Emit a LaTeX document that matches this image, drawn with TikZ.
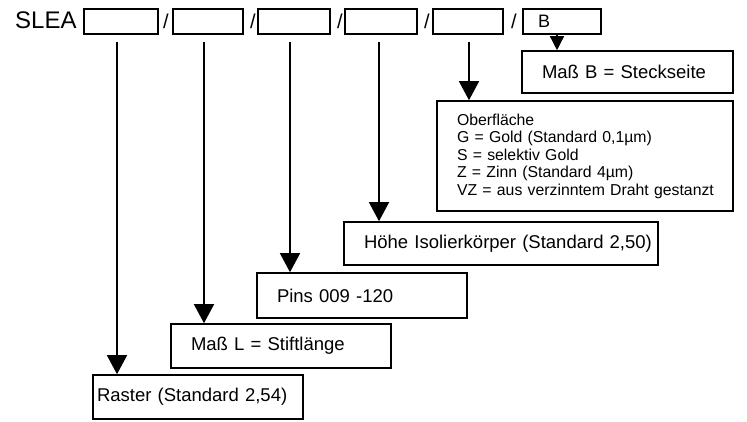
\documentclass[tikz,border=0pt]{standalone}
\usepackage{fontspec}
\setmainfont{Liberation Sans}
\usetikzlibrary{arrows.meta}

\tikzset{
    field/.style={draw, line width=1.6pt, minimum height=25pt, inner sep=0pt},
    label box/.style={draw, line width=1.6pt, align=left, inner xsep=20pt,
        font=\fontsize{18.5}{21}\selectfont},
    arr/.style={line width=1.5pt, -{Triangle[width=20pt,length=19pt]}},
}

\begin{document}
\begin{tikzpicture}[x=1pt,y=-1pt]
        \useasboundingbox (0,0) rectangle (747,421);
        %% Order code
        \node[anchor=base west, font=\fontsize{24}{24}\selectfont, inner sep=0pt] (slea) at (15,28) {SLEA};
        \node[field, minimum width=74pt] (f1) at (121,21.5) {};
        \node[field, minimum width=70pt] (f2) at (208,21.5) {};
        \node[field, minimum width=72pt] (f3) at (294,21.5) {};
        \node[field, minimum width=72pt] (f4) at (381,21.5) {};
        \node[field, minimum width=70pt] (f5) at (468,21.5) {};
        \node[field, minimum width=78pt, inner xsep=15pt, font=\fontsize{18}{18}\selectfont,
            text width=48pt, align=left] (f6) at (562,21.5) {B};
        \foreach \x/\n in {166/1,253/2,340/3,427/4,514/5}
            \node[anchor=base, font=\fontsize{20}{20}\selectfont, inner sep=0pt] (s\n) at (\x,28) {/};

        %% Explanations
        \node[label box, inner xsep=4pt, text width=202pt, minimum height=44pt] (raster) at (198,397) {\mbox{Raster (Standard 2,54)}};
        \node[label box, text width=180pt, minimum height=44pt] (massl) at (281,346) {\mbox{Maß L = Stiftlänge}};
        \node[label box, text width=170pt, minimum height=45pt] (pins) at (362,295.5) {\mbox{Pins 009 -120}};
        \node[label box, text width=274pt, minimum height=43pt] (hoehe) at (501,243.5) {\mbox{Höhe Isolierkörper (Standard 2,50)}};
        \node[label box, text width=256pt, minimum height=110pt, font=\fontsize{15.8}{17.5}\selectfont] (ober) at (585,156)
            {\mbox{Oberfläche}\\\mbox{G = Gold (Standard 0,1µm)}\\\mbox{S = selektiv Gold}\\\mbox{Z = Zinn (Standard 4µm)}\\\mbox{VZ = aus verzinntem Draht gestanzt}};
        \node[label box, text width=171pt, minimum height=42pt] (massb) at (627.5,72) {\mbox{Maß B = Steckseite}};

        %% Arrows
        \foreach \x/\n/\t in {117/1/raster,204/2/massl,290/3/pins,379/4/hoehe,469/5/ober} {
            \coordinate (a\n) at (\x,42);
            \draw[arr] (a\n) -- (a\n |- \t.north);
        }
        \coordinate (a6) at (557,34);
        \draw[line width=1.5pt, -{Triangle[width=14pt,length=14pt]}] (a6) -- (a6 |- massb.north);
    \end{tikzpicture}
\end{document}
